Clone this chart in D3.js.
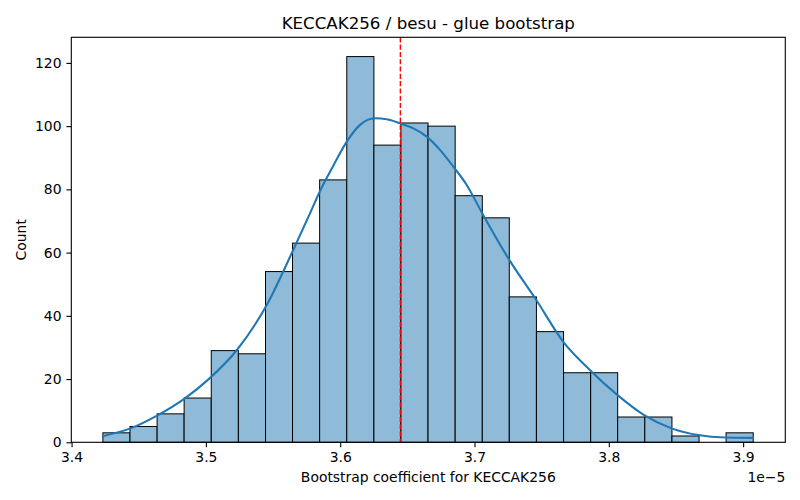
<!DOCTYPE html>
<html>
<head>
<meta charset="utf-8">
<script src="https://cdn.jsdelivr.net/npm/d3@7"></script>
<style>
  html, body { margin: 0; padding: 0; background: #fff; }
  svg { display: block; font-family: "DejaVu Sans", sans-serif; }
</style>
</head>
<body>
<svg id="chart" width="800" height="500"></svg>
<script>
// ---- Data (x values in units of 1e-5) ----
const binEdges = [3.4233, 3.4435, 3.4637, 3.4838, 3.5040, 3.5242, 3.5444, 3.5645, 3.5847,
                  3.6049, 3.6251, 3.6452, 3.6654, 3.6856, 3.7058, 3.7259, 3.7461, 3.7663,
                  3.7865, 3.8066, 3.8268, 3.8470, 3.8672, 3.8873, 3.9075];
const counts = [3, 5, 9, 14, 29, 28, 54, 63, 83, 122, 94, 101, 100, 78, 71, 46, 35, 22, 22, 8, 8, 2, 0, 3];

const kdeX = [3.4238, 3.4439, 3.4643, 3.4844, 3.5019, 3.5231, 3.5454, 3.5652, 3.5776, 3.5850,
              3.5949, 3.6049, 3.6148, 3.6259, 3.6347, 3.6446, 3.6545, 3.6644, 3.6743, 3.6842,
              3.6942, 3.7058, 3.7259, 3.7460, 3.7661, 3.7859, 3.8063, 3.8263, 3.8467, 3.8665,
              3.8864, 3.9074];
const kdeY = [2.0, 4.4, 8.6, 13.9, 19.9, 29.2, 43.5, 61.0, 72.5, 79.5,
              87.5, 95.1, 100.4, 102.5, 102.2, 100.9, 99.3, 96.7, 92.5, 87.2,
              81.4, 72.4, 57.7, 45.0, 31.8, 22.9, 15.0, 8.6, 4.4, 2.3,
              1.5, 1.4];

const meanValue = 3.6448;
const xTicks = [3.4, 3.5, 3.6, 3.7, 3.8, 3.9];
const yTicks = [0, 20, 40, 60, 80, 100, 120];
const xDomain = [3.3998, 3.9314];
const yDomain = [0, 128.1];

const titleText = "KECCAK256 / besu - glue bootstrap";
const xLabelText = "Bootstrap coefficient for KECCAK256";
const yLabelText = "Count";
const offsetText = "1e\u22125";

// ---- Layout ----
const mLeft = 71.3, mRight = 785.3, mTop = 37.3, mBottom = 442.3;
const svg = d3.select("#chart");

const x = d3.scaleLinear().domain(xDomain).range([mLeft, mRight]);
const y = d3.scaleLinear().domain(yDomain).range([mBottom, mTop]);

const bins = counts.map((c, i) => ({ x0: binEdges[i], x1: binEdges[i + 1], c }));

// bars
svg.append("g").selectAll("rect").data(bins.filter(d => d.c > 0)).join("rect")
  .attr("x", d => x(d.x0))
  .attr("y", d => y(d.c))
  .attr("width", d => x(d.x1) - x(d.x0))
  .attr("height", d => y(0) - y(d.c))
  .attr("fill", "rgb(143,187,217)")
  .attr("stroke", "#000")
  .attr("stroke-width", 1);

// KDE
const line = d3.line().x((d, i) => x(kdeX[i])).y(d => y(d)).curve(d3.curveMonotoneX);
svg.append("path").datum(kdeY)
  .attr("d", line)
  .attr("fill", "none")
  .attr("stroke", "#1f77b4")
  .attr("stroke-width", 2.08)
  .attr("stroke-linecap", "square");

// mean line
svg.append("line")
  .attr("x1", x(meanValue)).attr("x2", x(meanValue))
  .attr("y1", mTop).attr("y2", mBottom)
  .attr("stroke", "red")
  .attr("stroke-width", 1.39)
  .attr("stroke-dasharray", "5.1,2.2");

// spines
svg.append("rect")
  .attr("x", mLeft).attr("y", mTop)
  .attr("width", mRight - mLeft).attr("height", mBottom - mTop)
  .attr("fill", "none").attr("stroke", "#000").attr("stroke-width", 1.1);

// x axis
const xAxis = d3.axisBottom(x).tickValues(xTicks).tickFormat(d3.format(".1f"))
  .tickSize(4.9).tickPadding(4.9);
const gx = svg.append("g").attr("transform", `translate(0,${mBottom})`).call(xAxis);
gx.select(".domain").remove();
gx.selectAll(".tick line").attr("stroke", "#000").attr("stroke-width", 1.1);
gx.selectAll(".tick text").attr("fill", "#000").attr("font-size", "13.9px")
  .attr("font-family", "DejaVu Sans").attr("dy", "0.71em");

// y axis
const yAxis = d3.axisLeft(y).tickValues(yTicks).tickFormat(d3.format("d"))
  .tickSize(4.9).tickPadding(4.9);
const gy = svg.append("g").attr("transform", `translate(${mLeft},0)`).call(yAxis);
gy.select(".domain").remove();
gy.selectAll(".tick line").attr("stroke", "#000").attr("stroke-width", 1.1);
gy.selectAll(".tick text").attr("fill", "#000").attr("font-size", "13.9px")
  .attr("font-family", "DejaVu Sans");

// title
svg.append("text")
  .attr("x", (mLeft + mRight) / 2).attr("y", 28.8)
  .attr("text-anchor", "middle")
  .attr("font-size", "16.67px")
  .attr("fill", "#000")
  .text(titleText);

// x label
svg.append("text")
  .attr("x", (mLeft + mRight) / 2).attr("y", 481.7)
  .attr("text-anchor", "middle")
  .attr("font-size", "13.9px")
  .attr("fill", "#000")
  .text(xLabelText);

// offset text
svg.append("text")
  .attr("x", mRight).attr("y", 481.5)
  .attr("text-anchor", "end")
  .attr("font-size", "13.9px")
  .attr("fill", "#000")
  .text(offsetText);

// y label
svg.append("text")
  .attr("transform", `translate(26,${(mTop + mBottom) / 2}) rotate(-90)`)
  .attr("text-anchor", "middle")
  .attr("font-size", "13.9px")
  .attr("fill", "#000")
  .text(yLabelText);
</script>
</body>
</html>
